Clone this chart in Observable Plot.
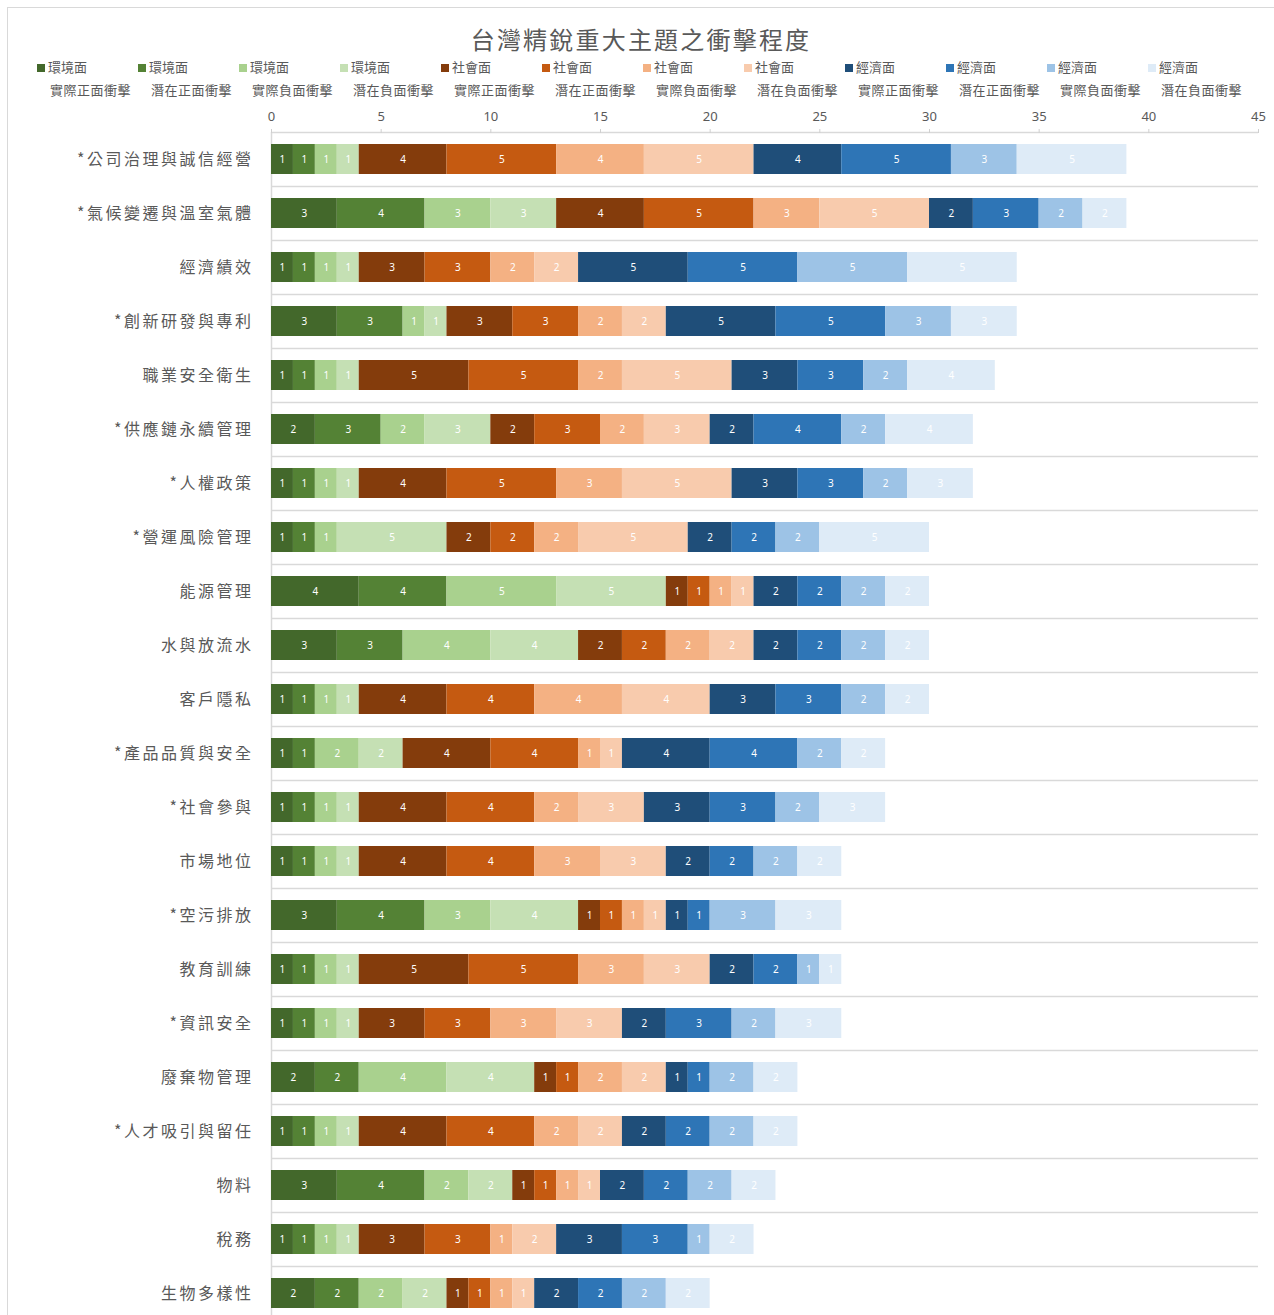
<!DOCTYPE html>
<html>
<head>
<meta charset="utf-8">
<script src="https://cdn.jsdelivr.net/npm/d3@7"></script>
<script src="https://cdn.jsdelivr.net/npm/@observablehq/plot@0.6"></script>
<style>
  html, body { margin: 0; padding: 0; background: #fff; overflow: hidden; width: 1274px; height: 1315px; }
  body { font-family: "Noto Sans CJK TC", "Noto Sans", sans-serif; color: #595959; position: relative; }
  #frame { position: absolute; left: 7px; top: 7px; width: 1300px; height: 1400px; border-left: 1px solid #d9d9d9; border-top: 1px solid #d9d9d9; }
  #title { position: absolute; top: 21px; left: 0; width: 1282px; text-align: center; font-size: 24px; letter-spacing: 2.2px; color: #595959; }
  .lg1 { position: absolute; top: 58px; font-size: 13px; white-space: nowrap; line-height: 18px; }
  .lg1 span.sw { display: inline-block; width: 8px; height: 8px; margin-right: 3px; vertical-align: 0px; }
  .lg2 { position: absolute; top: 81px; font-size: 13px; white-space: nowrap; line-height: 18px; letter-spacing: 0.5px; }
  #chart { position: absolute; top: 100px; left: 0; }
  [aria-label="y-axis tick label"] text { letter-spacing: 2.5px; }
</style>
</head>
<body>
<div id="frame"></div>
<div id="title">台灣精銳重大主題之衝擊程度</div>
<div id="legend"></div>
<div id="chart"></div>
<script>
const categories = ["*公司治理與誠信經營","*氣候變遷與溫室氣體","經濟績效","*創新研發與專利","職業安全衛生","*供應鏈永續管理","*人權政策","*營運風險管理","能源管理","水與放流水","客戶隱私","*產品品質與安全","*社會參與","市場地位","*空污排放","教育訓練","*資訊安全","廢棄物管理","*人才吸引與留任","物料","稅務","生物多樣性"];

const dimensions = ["環境面","環境面","環境面","環境面","社會面","社會面","社會面","社會面","經濟面","經濟面","經濟面","經濟面"];
const impactTypes = ["實際正面衝擊","潛在正面衝擊","實際負面衝擊","潛在負面衝擊","實際正面衝擊","潛在正面衝擊","實際負面衝擊","潛在負面衝擊","實際正面衝擊","潛在正面衝擊","實際負面衝擊","潛在負面衝擊"];
const seriesColors = ["#43682b","#548235","#a9d18e","#c5e0b4","#843c0c","#c55a11","#f4b183","#f8cbad","#1f4e79","#2e75b6","#9dc3e6","#deebf7"];

const envActualPos    = [1,3,1,3,1,2,1,1,4,3,1,1,1,1,3,1,1,2,1,3,1,2];
const envPotentialPos = [1,4,1,3,1,3,1,1,4,3,1,1,1,1,4,1,1,2,1,4,1,2];
const envActualNeg    = [1,3,1,1,1,2,1,1,5,4,1,2,1,1,3,1,1,4,1,2,1,2];
const envPotentialNeg = [1,3,1,1,1,3,1,5,5,4,1,2,1,1,4,1,1,4,1,2,1,2];
const socActualPos    = [4,4,3,3,5,2,4,2,1,2,4,4,4,4,1,5,3,1,4,1,3,1];
const socPotentialPos = [5,5,3,3,5,3,5,2,1,2,4,4,4,4,1,5,3,1,4,1,3,1];
const socActualNeg    = [4,3,2,2,2,2,3,2,1,2,4,1,2,3,1,3,3,2,2,1,1,1];
const socPotentialNeg = [5,5,2,2,5,3,5,5,1,2,4,1,3,3,1,3,3,2,2,1,2,1];
const ecoActualPos    = [4,2,5,5,3,2,3,2,2,2,3,4,3,2,1,2,2,1,2,2,3,2];
const ecoPotentialPos = [5,3,5,5,3,4,3,2,2,2,3,4,3,2,1,2,3,1,2,2,3,2];
const ecoActualNeg    = [3,2,5,3,2,2,2,2,2,2,2,2,2,2,3,1,2,2,2,2,1,2];
const ecoPotentialNeg = [5,2,5,3,4,4,3,5,2,2,2,2,3,2,3,1,3,2,2,2,2,2];

const xTicks = [0,5,10,15,20,25,30,35,40,45];

const seriesValues = [envActualPos, envPotentialPos, envActualNeg, envPotentialNeg,
                      socActualPos, socPotentialPos, socActualNeg, socPotentialNeg,
                      ecoActualPos, ecoPotentialPos, ecoActualNeg, ecoPotentialNeg];
const seriesKeys = dimensions.map((d, i) => d + impactTypes[i] + "#" + i);

// legend
const legend = document.getElementById("legend");
dimensions.forEach((d, i) => {
  const a = document.createElement("div");
  a.className = "lg1";
  a.style.left = (37 + 101 * i) + "px";
  a.innerHTML = `<span class="sw" style="background:${seriesColors[i]}"></span>${d}`;
  legend.appendChild(a);
  const b = document.createElement("div");
  b.className = "lg2";
  b.style.left = (50 + 101 * i) + "px";
  b.textContent = impactTypes[i];
  legend.appendChild(b);
});

const data = [];
categories.forEach((c, ci) => {
  seriesKeys.forEach((s, si) => {
    data.push({category: c, series: s, value: seriesValues[si][ci]});
  });
});

const chart = Plot.plot({
  width: 1274,
  height: 1215,
  marginLeft: 271,
  marginRight: 16,
  marginTop: 32,
  marginBottom: 0,
  style: {fontFamily: '"Noto Sans", "Noto Sans CJK TC", sans-serif', background: "transparent", color: "#595959"},
  x: {domain: [0, 45], label: null},
  y: {domain: categories, range: [32, 1220], paddingInner: 0.444, paddingOuter: 0.222, label: null},
  color: {domain: seriesKeys, range: seriesColors},
  marks: [
    Plot.ruleY(categories, {y: d => d, dy: 27, x1: 0, x2: 45, stroke: "#d9d9d9", strokeWidth: 1.5}),
    Plot.ruleY([categories[0]], {y: d => d, dy: -27, x1: 0, x2: 45, stroke: "#d9d9d9", strokeWidth: 1.5}),
    Plot.ruleX([0], {stroke: "#d9d9d9", strokeWidth: 1.5}),
    Plot.barX(data, Plot.stackX({x: "value", y: "category", fill: "series"})),
    Plot.text(data, Plot.stackX({x: "value", y: "category", z: "series", text: d => String(d.value), fill: "white", fontSize: 10})),
    Plot.axisX({anchor: "top", ticks: xTicks, tickSize: 4, tickPadding: 8, stroke: "#d0d0d0", fill: "#595959", fontSize: 13, label: null}),
    Plot.axisY({tickSize: 0, tickPadding: 18, fill: "#595959", fontSize: 16, label: null, fontFamily: '"Noto Sans CJK TC", sans-serif'})
  ]
});
document.getElementById("chart").appendChild(chart);
</script>
</body>
</html>
